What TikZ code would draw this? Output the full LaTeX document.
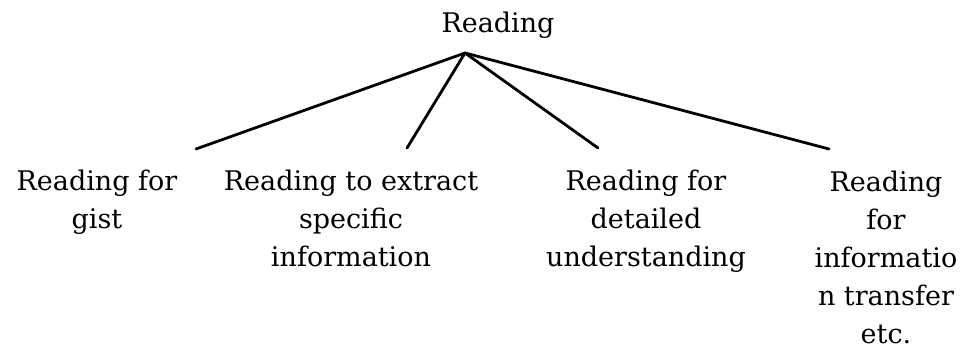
\documentclass[tikz,border=0pt]{standalone}
\usepackage{fontspec}
\setmainfont{DejaVu Serif}
\begin{document}
\begin{tikzpicture}[x=1pt,y=-1pt,
  lbl/.style={inner sep=0pt, align=center, anchor=base,
    font=\fontsize{27}{38}\selectfont},
  branch/.style={line width=2.8pt, line cap=round}]
\useasboundingbox (0,0) rectangle (968,352);
\node[lbl] (root) at (498,33) {Reading};
\coordinate (apex) at (465,53);
\coordinate (e1) at (196,149);
\coordinate (e2) at (407,148);
\coordinate (e3) at (598,148);
\coordinate (e4) at (829,149);
\node[lbl] (n1) at (97,229) {Reading for\\gist};
\node[lbl] (n2) at (351,267) {Reading to extract\\specific\\information};
\node[lbl] (n3) at (646,267) {Reading for\\detailed\\understanding};
\node[lbl] (n4) at (886,343) {Reading\\for\\informatio\\n transfer\\etc.};
\draw[branch] (apex) -- (e1);
\draw[branch] (apex) -- (e2);
\draw[branch] (apex) -- (e3);
\draw[branch] (apex) -- (e4);
\end{tikzpicture}
\end{document}
